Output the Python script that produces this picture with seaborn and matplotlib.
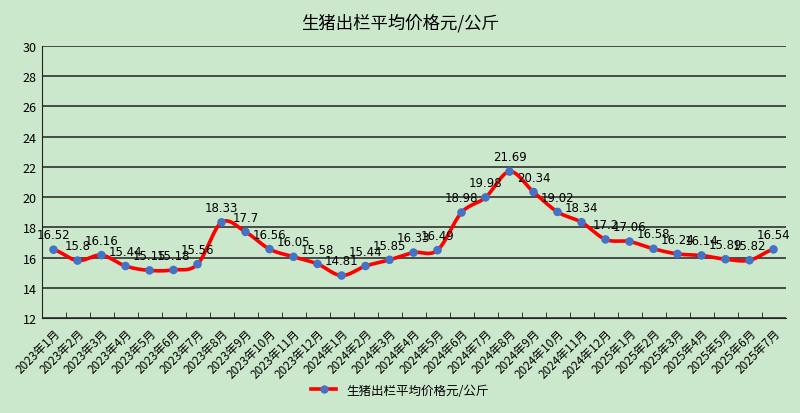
import numpy as np
import matplotlib.pyplot as plt
import seaborn as sns
from matplotlib.lines import Line2D
from matplotlib import font_manager

names = {f.name for f in font_manager.fontManager.ttflist}
cjk = [n for n in ["Noto Sans CJK SC", "Noto Sans CJK JP", "Noto Sans CJK TC", "Noto Sans CJK KR"] if n in names]
plt.rcParams["font.family"] = cjk + ["DejaVu Sans"]

months = ["2023年%d月" % m for m in range(1, 13)] + \
         ["2024年%d月" % m for m in range(1, 13)] + \
         ["2025年%d月" % m for m in range(1, 8)]
prices = [16.52, 15.8, 16.16, 15.44, 15.15, 15.18, 15.56, 18.33, 17.7, 16.56, 16.05, 15.58,
          14.81, 15.44, 15.85, 16.33, 16.49, 18.98, 19.98, 21.69, 20.34, 19.02, 18.34, 17.2,
          17.06, 16.58, 16.24, 16.14, 15.89, 15.82, 16.54]
labels = ["16.52", "15.8", "16.16", "15.44", "15.15", "15.18", "15.56", "18.33", "17.7", "16.56",
          "16.05", "15.58", "14.81", "15.44", "15.85", "16.33", "16.49", "18.98", "19.98", "21.69",
          "20.34", "19.02", "18.34", "17.2", "17.06", "16.58", "16.24", "16.14", "15.89", "15.82", "16.54"]
title = "生猪出栏平均价格元/公斤"

BG = "#cce8cc"
fig = plt.figure(figsize=(8, 4.14), dpi=100, facecolor=BG)
ax = fig.add_axes([41.5 / 800, 1 - 319 / 414, 744 / 800, 272 / 414], facecolor=BG)

x = np.arange(len(prices))
y = np.array(prices)

# Catmull-Rom smoothing for the connecting line only
sx, sy = [], []
for i in range(len(x) - 1):
    p0 = y[max(i - 1, 0)]; p1 = y[i]; p2 = y[i + 1]; p3 = y[min(i + 2, len(y) - 1)]
    t = np.linspace(0, 1, 20)
    seg = 0.5 * ((2 * p1) + (-p0 + p2) * t + (2 * p0 - 5 * p1 + 4 * p2 - p3) * t ** 2
                 + (-p0 + 3 * p1 - 3 * p2 + p3) * t ** 3)
    sx.extend(x[i] + t); sy.extend(seg)
ax.plot(sx, sy, color="#ff0000", lw=2.6, zorder=3)
sns.scatterplot(x=x, y=y, color="#4472c4", s=38, edgecolor="none", zorder=4, ax=ax)

for xi, yi, lb in zip(x, y, labels):
    ax.text(xi, yi + 0.55, lb, ha="center", va="bottom", fontsize=8.5, family="DejaVu Sans", zorder=5)

ax.set_xlim(-0.5, len(prices) - 0.5)
ax.set_ylim(12, 30)
ax.set_yticks(range(12, 31, 2))
ax.yaxis.grid(True, color="#222222", lw=1.1)
ax.set_axisbelow(True)
ax.set_xticks(x)
ax.set_xticklabels(months, rotation=45, ha="right", rotation_mode="anchor", fontsize=8.5)
ax.set_xticks(np.arange(0.5, len(prices) - 0.5, 1), minor=True)
ax.tick_params(axis="x", which="major", length=0, pad=6)
ax.tick_params(axis="x", which="minor", length=4, direction="in", color="#222222")
ax.tick_params(axis="y", length=0, labelsize=9)
for s in ["top", "right"]:
    ax.spines[s].set_visible(False)
ax.spines["left"].set_color("#222222")
ax.spines["bottom"].set_color("#222222")
ax.set_xlabel(""); ax.set_ylabel("")

fig.text(0.5, 0.945, title, ha="center", va="center", fontsize=12.5)
h = Line2D([0], [0], color="#ff0000", lw=2.6, marker="o", markerfacecolor="#4472c4",
           markeredgecolor="none", markersize=6)
fig.legend([h], [title], loc="center", bbox_to_anchor=(0.5, 0.055), frameon=False, fontsize=9)

plt.savefig("out.png", facecolor=BG)
